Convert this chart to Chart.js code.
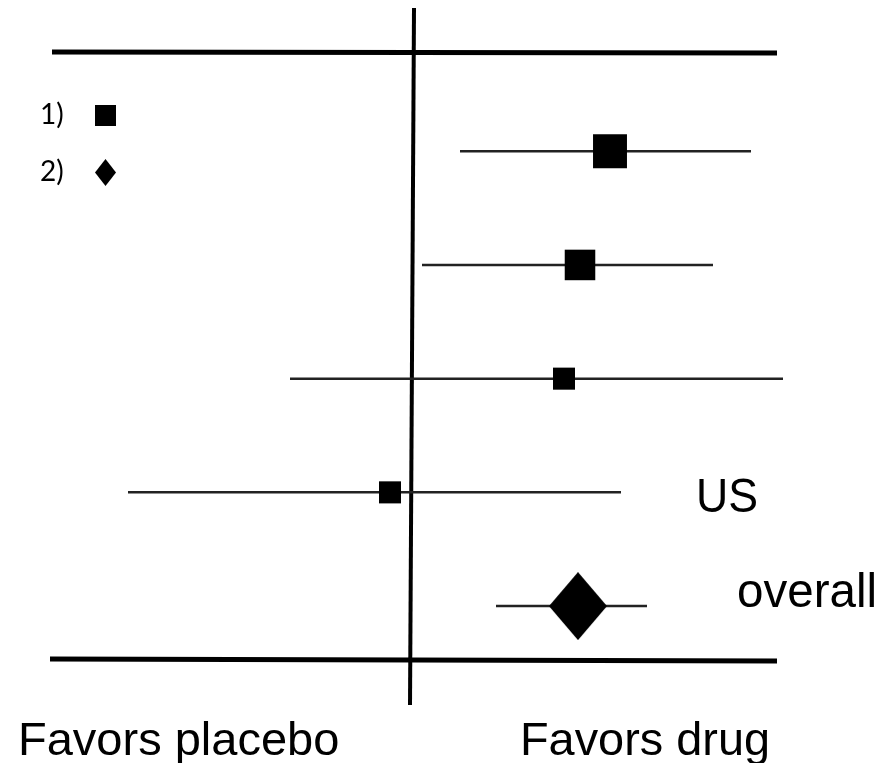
<!DOCTYPE html>
<html><head><meta charset="utf-8">
<script src="https://cdn.jsdelivr.net/npm/chart.js@4/dist/chart.umd.min.js"></script>
<style>html,body{margin:0;padding:0;background:#fff;} #wrap{width:881px;height:763px;position:relative;}</style>
</head><body><div id="wrap"><canvas id="c"></canvas></div>
<script>
// ---- data (effect size units; 0 = no difference) ----
const rowNames   = ['Study 1', 'Study 2', 'Study 3', 'US', 'overall'];
const rowText    = ['', '', '', 'US', 'overall'];
const estimate   = [1.98, 1.68, 1.52, -0.22, 1.66];
const lower      = [0.48, 0.10, -1.22, -2.84, 0.84];
const upper      = [3.39, 3.01, 3.71, 2.09, 2.35];
const weight     = [100, 90, 65, 65, 0];       // relative study weight
const isSummary  = [false, false, false, false, true];
const sideLabels = ['Favors placebo', 'Favors drug'];
const keyLabels  = ['1)', '2)'];

// ---- styles ----
const INK = '#000';
const LINE = '#222';
function diamond(w, h) {
  const c = document.createElement('canvas');
  c.width = w; c.height = h;
  const g = c.getContext('2d');
  g.fillStyle = INK;
  g.beginPath();
  g.moveTo(w / 2, 0); g.lineTo(w, h / 2); g.lineTo(w / 2, h); g.lineTo(0, h / 2);
  g.closePath(); g.fill();
  return c;
}
const bigDiamond = diamond(58, 68);
const smallDiamond = diamond(21, 27);

const ciSets = rowNames.map((n, i) => ({
  type: 'line',
  label: n + ' CI',
  data: [{x: lower[i], y: i}, {x: upper[i], y: i}],
  borderColor: LINE,
  borderWidth: 2.5,
  pointRadius: 0,
  order: 2
}));

const pointSet = {
  type: 'scatter',
  label: 'estimate',
  data: estimate.map((v, i) => ({x: v, y: i})),
  pointStyle: isSummary.map(s => s ? bigDiamond : 'rect'),
  pointRadius: weight.map((w, i) => isSummary[i] ? 30 : w * 0.24),
  backgroundColor: INK,
  borderColor: INK,
  borderWidth: 0,
  order: 1
};

const deco = {
  id: 'deco',
  beforeDatasetsDraw(chart) {
    const ctx = chart.ctx, xs = chart.scales.x;
    const x0 = xs.getPixelForValue(0);
    ctx.save();
    ctx.strokeStyle = INK;
    ctx.lineCap = 'butt';
    ctx.lineWidth = 5;
    ctx.beginPath(); ctx.moveTo(52, 52); ctx.lineTo(777, 53); ctx.stroke();
    ctx.beginPath(); ctx.moveTo(50, 659); ctx.lineTo(777, 661); ctx.stroke();
    ctx.lineWidth = 4;
    ctx.beginPath(); ctx.moveTo(x0 + 2, 8); ctx.lineTo(x0 - 2, 705); ctx.stroke();
    ctx.restore();
  },
  afterDatasetsDraw(chart) {
    const ctx = chart.ctx;
    ctx.save();
    ctx.fillStyle = INK;
    ctx.textBaseline = 'middle';
    ctx.font = '48px "Liberation Sans", Arial, sans-serif';
    const textX = [0, 0, 0, 696, 737];
    const textY = [0, 0, 0, 499, 594];
    rowText.forEach((t, i) => {
      if (t) ctx.fillText(t, textX[i], textY[i], i === 3 ? 62 : 140);
    });
    ctx.textBaseline = 'alphabetic';
    ctx.font = '47px "Liberation Sans", Arial, sans-serif';
    ctx.fillText(sideLabels[0], 18, 755, 322);
    ctx.fillText(sideLabels[1], 520, 755, 250);
    // key
    ctx.font = '28px Lato, "Open Sans", sans-serif';
    ctx.textBaseline = 'middle';
    ctx.fillText(keyLabels[0], 40, 115);
    ctx.fillText(keyLabels[1], 40, 172);
    ctx.fillRect(95, 105, 21, 21);
    ctx.drawImage(smallDiamond, 95, 159);
    ctx.restore();
  }
};

new Chart(document.getElementById('c'), {
  data: { datasets: [...ciSets, pointSet] },
  options: {
    responsive: true,
    maintainAspectRatio: false,
    animation: false,
    layout: { padding: 0, autoPadding: false },
    plugins: { legend: { display: false }, tooltip: { enabled: false } },
    scales: {
      x: { type: 'linear', min: -4.12, max: 4.69, display: false },
      y: { type: 'linear', min: -1.33, max: 5.38, reverse: true, display: false }
    }
  },
  plugins: [deco]
});
</script></body></html>
